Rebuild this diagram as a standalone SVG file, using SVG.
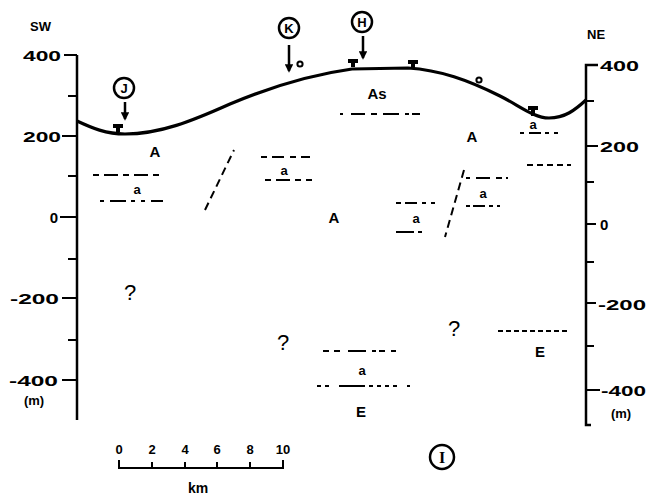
<svg xmlns="http://www.w3.org/2000/svg" width="647" height="496" viewBox="0 0 647 496">
  <style>
    .lbl { font-family: "Liberation Sans", Arial, sans-serif; font-weight: bold; fill: #000; }
    .ax { font-size: 15px; }
    .unit { font-size: 13px; }
    .unitA { font-size: 15px; text-anchor: middle; }
    .small { font-size: 13px; text-anchor: middle; }
    .q { font-family: "Liberation Sans", Arial, sans-serif; font-size: 22px; text-anchor: middle; fill: #000; }
    .axis { stroke: #000; stroke-width: 2.5; fill: none; }
    .tick { stroke: #000; stroke-width: 2; fill: none; }
    .ground { stroke: #000; stroke-width: 3.2; fill: none; }
    .contact { stroke: #000; stroke-width: 2; fill: none; stroke-dasharray: 6 5 14 5; }
    .fault { stroke: #000; stroke-width: 2; fill: none; stroke-dasharray: 8 5; }
    .ring { stroke: #000; stroke-width: 2.5; fill: #fff; }
    .arrow { stroke: #000; stroke-width: 2.5; fill: none; marker-end: url(#head); }
    .well { fill: #000; }
    .wellO { fill: #fff; stroke: #000; stroke-width: 2; }
  </style>
  <defs>
    <marker id="head" viewBox="0 0 10 10" refX="8" refY="5" markerWidth="3.4" markerHeight="3.4" orient="auto">
      <path d="M0,0 L10,5 L0,10 Z" fill="#000"/>
    </marker>
  </defs>

  <rect width="647" height="496" fill="#fff"/>

  <!-- left elevation scale -->
  <g id="axis-left">
    <path class="axis" d="M77,55 V420"/>
    <path class="tick" d="M64,55 H77 M68,96 H77 M62,136 H77 M68,176 H77 M60,217 H77 M68,259 H77 M62,298 H77 M68,340 H77 M62,380 H77"/>
    <text class="lbl" x="30" y="31" font-size="13">SW</text>
    <text class="lbl ax" x="61" y="61" text-anchor="end" textLength="38" lengthAdjust="spacingAndGlyphs">400</text>
    <text class="lbl ax" x="61" y="142" text-anchor="end" textLength="38" lengthAdjust="spacingAndGlyphs">200</text>
    <text class="lbl ax" x="58" y="223" text-anchor="end">0</text>
    <text class="lbl ax" x="59" y="304" text-anchor="end" textLength="49" lengthAdjust="spacingAndGlyphs">-200</text>
    <text class="lbl ax" x="58" y="386" text-anchor="end" textLength="49" lengthAdjust="spacingAndGlyphs">-400</text>
    <text class="lbl unit" x="34" y="405" text-anchor="middle">(m)</text>
  </g>

  <!-- right elevation scale -->
  <g id="axis-right">
    <path class="axis" d="M598,65 H586 V425 H591"/>
    <path class="tick" d="M586,101 H594 M586,146 H598 M586,182 H594 M586,224 H596 M586,262 H594 M586,303 H596 M586,346 H594 M586,390 H600"/>
    <text class="lbl" x="587" y="39" font-size="13">NE</text>
    <text class="lbl ax" x="600" y="71" textLength="39" lengthAdjust="spacingAndGlyphs">400</text>
    <text class="lbl ax" x="600" y="152" textLength="39" lengthAdjust="spacingAndGlyphs">200</text>
    <text class="lbl ax" x="600" y="230">0</text>
    <text class="lbl ax" x="598" y="310" textLength="48" lengthAdjust="spacingAndGlyphs">-200</text>
    <text class="lbl ax" x="601" y="396" textLength="45" lengthAdjust="spacingAndGlyphs">-400</text>
    <text class="lbl unit" x="621" y="418" text-anchor="middle">(m)</text>
  </g>

  <!-- ground surface and well sites on it -->
  <g id="surface">
    <path class="ground" d="M77,121 C92,128 106,134 125,134 C160,134 192,121 230,104 C268,88 308,75 352,69 L408,68 C440,70 468,80 500,96 C520,106 534,118 549,118 C565,118 575,110 586,100"/>
    <path class="well" d="M113,124 H123 V128 H120 V132 H116 V128 H113 Z"/>
    <path class="well" d="M348,59 H358 V63 H355 V67 H351 V63 H348 Z"/>
    <path class="well" d="M408,60 H418 V64 H415 V68 H411 V64 H408 Z"/>
    <path class="well" d="M528,106 H538 V110 H535 V116 H531 V110 H528 Z"/>
    <circle class="wellO" cx="300" cy="64" r="2.6"/>
    <circle class="wellO" cx="479" cy="80" r="2.6"/>
  </g>

  <!-- site markers -->
  <g id="site-J">
    <circle class="ring" cx="124" cy="88" r="10"/>
    <text class="lbl" x="124" y="93" font-size="13" text-anchor="middle">J</text>
  </g>
  <g id="site-K">
    <circle class="ring" cx="289" cy="28" r="10"/>
    <text class="lbl" x="289" y="33" font-size="13" text-anchor="middle">K</text>
  </g>
  <g id="site-H">
    <circle class="ring" cx="362" cy="22" r="10"/>
    <text class="lbl" x="362" y="27" font-size="13" text-anchor="middle">H</text>
  </g>
  <g id="site-I">
    <circle class="ring" cx="442" cy="457" r="12"/>
    <text x="442" y="463" font-family="Liberation Serif, serif" font-weight="bold" font-size="16" text-anchor="middle">I</text>
  </g>

  <!-- pointers from site markers down to the surface -->
  <g id="connectors">
    <path class="arrow" d="M125,102 V119"/>
    <path class="arrow" d="M289,45 V71"/>
    <path class="arrow" d="M363,36 V58"/>
  </g>

  <!-- geological contacts and faults -->
  <g id="contacts">
    <path class="contact" d="M93,175 H164"/>
    <path class="contact" d="M100,201 H163" style="stroke-dasharray:4 6 16 5 4 6"/>
    <path class="contact" d="M261,157 H310" style="stroke-dasharray:6 5 12 6"/>
    <path class="contact" d="M265,180 H312" style="stroke-dasharray:6 5 14 5"/>
    <path class="contact" d="M340,114 H426" style="stroke-dasharray:3 8 14 6 6 6 16 6 4"/>
    <path class="contact" d="M396,203 H439" style="stroke-dasharray:5 4 12 5 4"/>
    <path class="contact" d="M396,232 H440" style="stroke-dasharray:18 4 4"/>
    <path class="contact" d="M466,178 H508" style="stroke-dasharray:4 6 14 6 6"/>
    <path class="contact" d="M466,206 H508" style="stroke-dasharray:4 3 12 4 4"/>
    <path class="contact" d="M520,133 H560" style="stroke-dasharray:4 5 12 4 4 5"/>
    <path class="contact" d="M527,165 H571" style="stroke-dasharray:6 4"/>
    <path class="contact" d="M323,351 H398" style="stroke-dasharray:6 5 6 8 18 6 4 3 6"/>
    <path class="contact" d="M317,386 H410" style="stroke-dasharray:4 4 4 10 26 4 4 4 4 4"/>
    <path class="contact" d="M498,331 H570" style="stroke-dasharray:5 3"/>
    <path class="fault" d="M205,210 L234,150"/>
    <path class="fault" d="M464,170 L445,237"/>
  </g>

  <!-- unit labels -->
  <g id="units">
    <text class="lbl unitA" x="155" y="157">A</text>
    <text class="lbl small" x="137" y="194">a</text>
    <text class="lbl small" x="284" y="175">a</text>
    <text class="lbl unitA" x="377" y="99">As</text>
    <text class="lbl unitA" x="334" y="223">A</text>
    <text class="lbl small" x="416" y="223">a</text>
    <text class="lbl unitA" x="472" y="142">A</text>
    <text class="lbl small" x="483" y="198">a</text>
    <text class="lbl small" x="533" y="129">a</text>
    <text class="lbl small" x="362" y="375">a</text>
    <text class="lbl unitA" x="361" y="417">E</text>
    <text class="lbl unitA" x="540" y="357">E</text>
    <text class="q" x="130" y="300">?</text>
    <text class="q" x="283" y="350">?</text>
    <text class="q" x="454" y="336">?</text>
  </g>

  <!-- horizontal scale bar -->
  <g id="scale-bar">
    <path class="tick" d="M119,460 V468 H283 V460 M152,462 V468 M185,462 V468 M217,462 V468 M250,462 V468"/>
    <text class="lbl" font-size="13" x="119" y="454" text-anchor="middle">0</text>
    <text class="lbl" font-size="13" x="152" y="454" text-anchor="middle">2</text>
    <text class="lbl" font-size="13" x="185" y="454" text-anchor="middle">4</text>
    <text class="lbl" font-size="13" x="217" y="454" text-anchor="middle">6</text>
    <text class="lbl" font-size="13" x="250" y="454" text-anchor="middle">8</text>
    <text class="lbl" font-size="13" x="283" y="454" text-anchor="middle">10</text>
    <text class="lbl" font-size="14" x="198" y="493" text-anchor="middle">km</text>
  </g>
</svg>
